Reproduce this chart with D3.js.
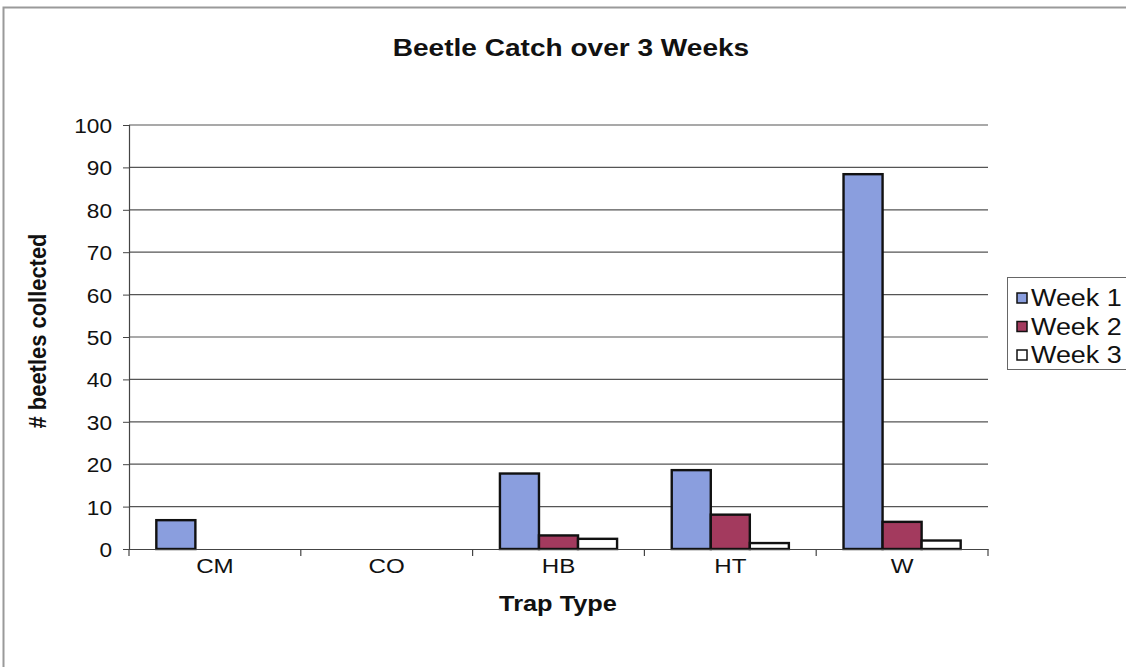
<!DOCTYPE html>
<html><head><meta charset="utf-8">
<script src="https://cdn.jsdelivr.net/npm/d3@7"></script>
<style>body{margin:0;background:#fff;}svg{display:block;font-family:Arial,"Liberation Sans",sans-serif;}</style>
</head><body>
<svg id="c" width="1126" height="667"></svg>
<script>
const categories = ["CM","CO","HB","HT","W"];
const seriesNames = ["Week 1","Week 2","Week 3"];
const week1 = [6.8, 0, 17.8, 18.6, 88.4];
const week2 = [0, 0, 3.2, 8.1, 6.4];
const week3 = [0, 0, 2.4, 1.4, 2.0];
const yTicks = [0,10,20,30,40,50,60,70,80,90,100];
const colors = ["#8A9EDE","#A33A5E","#FFFFFF"];

(function(){
const svg = d3.select("#c");
const FONT = "Arial, 'Liberation Sans', sans-serif";
function label(parent, x, y, k, txt, size, weight, anchor){
  return parent.append("text")
    .attr("transform",`translate(${x},${y}) scale(${k},1)`)
    .attr("text-anchor",anchor||"middle").attr("font-family",FONT)
    .attr("font-size",size).attr("font-weight",weight||"normal").attr("fill","#111").text(txt);
}
// outer frame
svg.append("rect").attr("x",3.5).attr("y",7.5).attr("width",1130).attr("height",670)
  .attr("fill","#fff").attr("stroke","#9a9a9a").attr("stroke-width",2);

const pLeft=129, pRight=988, pTop=125, pBottom=549;
const x = d3.scaleBand().domain(categories).range([pLeft,pRight]).paddingInner(0).paddingOuter(0);
const y = d3.scaleLinear().domain([0,100]).range([pBottom,pTop]);
const xs = d3.scaleBand().domain(seriesNames).range([0,x.bandwidth()]).paddingInner(0).paddingOuter(0.7);

// gridlines
svg.append("g").selectAll("line").data(yTicks.filter(d=>d>0)).join("line")
  .attr("x1",pLeft).attr("x2",pRight).attr("y1",d=>y(d)).attr("y2",d=>y(d))
  .attr("stroke","#555").attr("stroke-width",1.2);

const data = [week1,week2,week3];
const g = svg.append("g");
categories.forEach((c,i)=>{
  seriesNames.forEach((s,j)=>{
    const v = data[j][i];
    if (v<=0) return;
    g.append("rect").attr("x",x(c)+xs(s)).attr("y",y(v)).attr("width",xs.bandwidth())
      .attr("height",y(0)-y(v)).attr("fill",colors[j]).attr("stroke","#111").attr("stroke-width",2.4);
  });
});

// axes
const kTick = 1.08;
const yAxis = svg.append("g").attr("transform",`translate(${pLeft},0)`)
  .call(d3.axisLeft(y).tickValues(yTicks).tickSize(6).tickPadding(0));
yAxis.select(".domain").attr("stroke","#444").attr("stroke-width",1.2);
yAxis.selectAll(".tick line").attr("stroke","#444");
yAxis.selectAll("text").attr("font-size",21).attr("fill","#111").attr("font-family",FONT)
  .attr("x",-17/kTick).attr("dy","0.36em").attr("transform",`scale(${kTick},1)`);

const kX = 1.15;
const xAxis = svg.append("g").attr("transform",`translate(0,${pBottom})`)
  .call(d3.axisBottom(x).tickSize(0).tickPadding(9));
xAxis.select(".domain").attr("stroke","#444").attr("stroke-width",1.2);
xAxis.selectAll("text").attr("font-size",21).attr("fill","#111").attr("font-family",FONT)
  .attr("transform",`scale(${kX},1)`);
// category boundary ticks
svg.append("g").selectAll("line").data(categories.concat(["_end"])).join("line")
  .attr("x1",(d,i)=>pLeft+i*x.bandwidth()).attr("x2",(d,i)=>pLeft+i*x.bandwidth())
  .attr("y1",pBottom).attr("y2",pBottom+7).attr("stroke","#444").attr("stroke-width",1.2);

// title & labels
label(svg, 571, 56, 1.22, "Beetle Catch over 3 Weeks", 23, "bold");
label(svg, 558, 611, 1.18, "Trap Type", 21.5, "bold");
svg.append("text").attr("transform","translate(46,331) rotate(-90) scale(1.02,1.1)")
  .attr("text-anchor","middle").attr("font-family",FONT)
  .attr("font-size",21.5).attr("font-weight","bold").attr("fill","#111").text("# beetles collected");

// legend
const lg = svg.append("g");
lg.append("rect").attr("x",1007.5).attr("y",277.5).attr("width",130).attr("height",92)
  .attr("fill","#fff").attr("stroke","#666").attr("stroke-width",1);
seriesNames.forEach((s,j)=>{
  const cy = 298 + j*28.5;
  lg.append("rect").attr("x",1017).attr("y",cy-5).attr("width",10).attr("height",10)
    .attr("fill",colors[j]).attr("stroke","#111").attr("stroke-width",1.5);
  label(lg, 1031, cy+8, 1.17, s, 23, "normal", "start");
});
})();
</script>
</body></html>
